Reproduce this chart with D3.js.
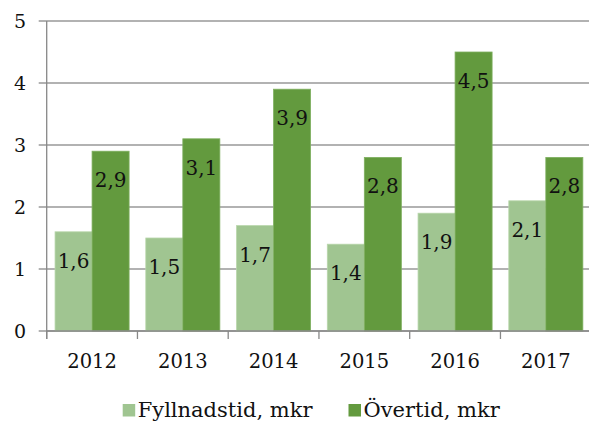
<!DOCTYPE html>
<html>
<head>
<meta charset="utf-8">
<script src="https://cdn.jsdelivr.net/npm/d3@7"></script>
<style>
  body { margin: 0; background: #fff; }
  svg { display: block; font-family: "DejaVu Serif", serif; }
</style>
</head>
<body>
<svg id="chart" width="589" height="421"></svg>
<script>
var years = ['2012', '2013', '2014', '2015', '2016', '2017'];
var seriesNames = ['Fyllnadstid, mkr', 'Övertid, mkr'];
var fyllnadstid = [1.6, 1.5, 1.7, 1.4, 1.9, 2.1];
var overtid = [2.9, 3.1, 3.9, 2.8, 4.5, 2.8];
var yTicks = [0, 1, 2, 3, 4, 5];

(function () {
    var svg = d3.select('#chart');
    var colors = ['#a0c591', '#639a3e'];
    var strokes = ['#b8d6ab', '#7fb060'];

    var left = 46.7, right = 591.2, top = 21, bottom = 331;

    var x0 = d3.scaleBand()
        .domain(years)
        .range([left, right])
        .paddingInner(0.184)
        .paddingOuter(0.092);

    var x1 = d3.scaleBand()
        .domain([0, 1])
        .range([0, x0.bandwidth()]);

    var yScale = d3.scaleLinear()
        .domain([0, 5])
        .range([bottom, top]);

    // gridlines
    svg.append('g')
        .selectAll('line')
        .data(yTicks)
        .enter()
        .append('line')
        .attr('x1', left - 8)
        .attr('x2', right)
        .attr('y1', function (d) { return yScale(d); })
        .attr('y2', function (d) { return yScale(d); })
        .attr('stroke', '#999')
        .attr('stroke-width', 1.3);

    // y tick labels
    svg.append('g')
        .selectAll('text')
        .data(yTicks)
        .enter()
        .append('text')
        .attr('x', 26)
        .attr('y', function (d) { return yScale(d); })
        .attr('dy', '0.38em')
        .attr('text-anchor', 'end')
        .style('font-size', '19px')
        .attr('fill', '#111')
        .text(function (d) { return d; });

    // bars
    var data = years.map(function (y, i) {
        return { year: y, values: [fyllnadstid[i], overtid[i]] };
    });

    var groups = svg.append('g')
        .selectAll('g')
        .data(data)
        .enter()
        .append('g')
        .attr('transform', function (d) { return 'translate(' + x0(d.year) + ',0)'; });

    groups.selectAll('rect')
        .data(function (d) { return d.values.map(function (v, k) { return { k: k, v: v }; }); })
        .enter()
        .append('rect')
        .attr('x', function (d) { return x1(d.k); })
        .attr('width', x1.bandwidth())
        .attr('y', function (d) { return yScale(d.v); })
        .attr('height', function (d) { return bottom - yScale(d.v); })
        .attr('fill', function (d) { return colors[d.k]; })
        .attr('stroke', function (d) { return strokes[d.k]; })
        .attr('stroke-width', 0.8);

    groups.selectAll('text')
        .data(function (d) { return d.values.map(function (v, k) { return { k: k, v: v }; }); })
        .enter()
        .append('text')
        .attr('x', function (d) { return x1(d.k) + x1.bandwidth() / 2; })
        .attr('y', function (d) { return yScale(d.v) + 36; })
        .attr('text-anchor', 'middle')
        .style('font-size', '20px')
        .attr('fill', '#111')
        .text(function (d) { return String(d.v).replace('.', ','); });

    // axes lines
    svg.append('line')
        .attr('x1', left).attr('x2', left)
        .attr('y1', top).attr('y2', bottom + 8)
        .attr('stroke', '#888').attr('stroke-width', 1.3);

    svg.append('line')
        .attr('x1', left).attr('x2', right)
        .attr('y1', bottom).attr('y2', bottom)
        .attr('stroke', '#888').attr('stroke-width', 1.3);

    // category ticks at boundaries
    var step = x0.step();
    svg.append('g')
        .selectAll('line')
        .data(years)
        .enter()
        .append('line')
        .attr('x1', function (d) { return x0(d) - step * x0.paddingInner() / 2; })
        .attr('x2', function (d) { return x0(d) - step * x0.paddingInner() / 2; })
        .attr('y1', bottom)
        .attr('y2', bottom + 8)
        .attr('stroke', '#888')
        .attr('stroke-width', 1.3);

    // year labels
    svg.append('g')
        .selectAll('text')
        .data(years)
        .enter()
        .append('text')
        .attr('x', function (d) { return x0(d) + x0.bandwidth() / 2; })
        .attr('y', 368)
        .attr('text-anchor', 'middle')
        .style('font-size', '19.5px')
        .attr('fill', '#111')
        .text(function (d) { return d; });

    // legend
    var legendX = [122.7, 348.5];
    var legend = svg.append('g')
        .selectAll('g')
        .data(seriesNames)
        .enter()
        .append('g')
        .attr('transform', function (d, i) { return 'translate(' + legendX[i] + ',404)'; });

    legend.append('rect')
        .attr('width', 12.5)
        .attr('height', 12.5)
        .attr('fill', function (d, i) { return colors[i]; });

    legend.append('text')
        .attr('x', 15)
        .attr('y', 13)
        .style('font-size', '21px')
        .attr('fill', '#111')
        .text(function (d) { return d; });
})();
</script>
</body>
</html>
